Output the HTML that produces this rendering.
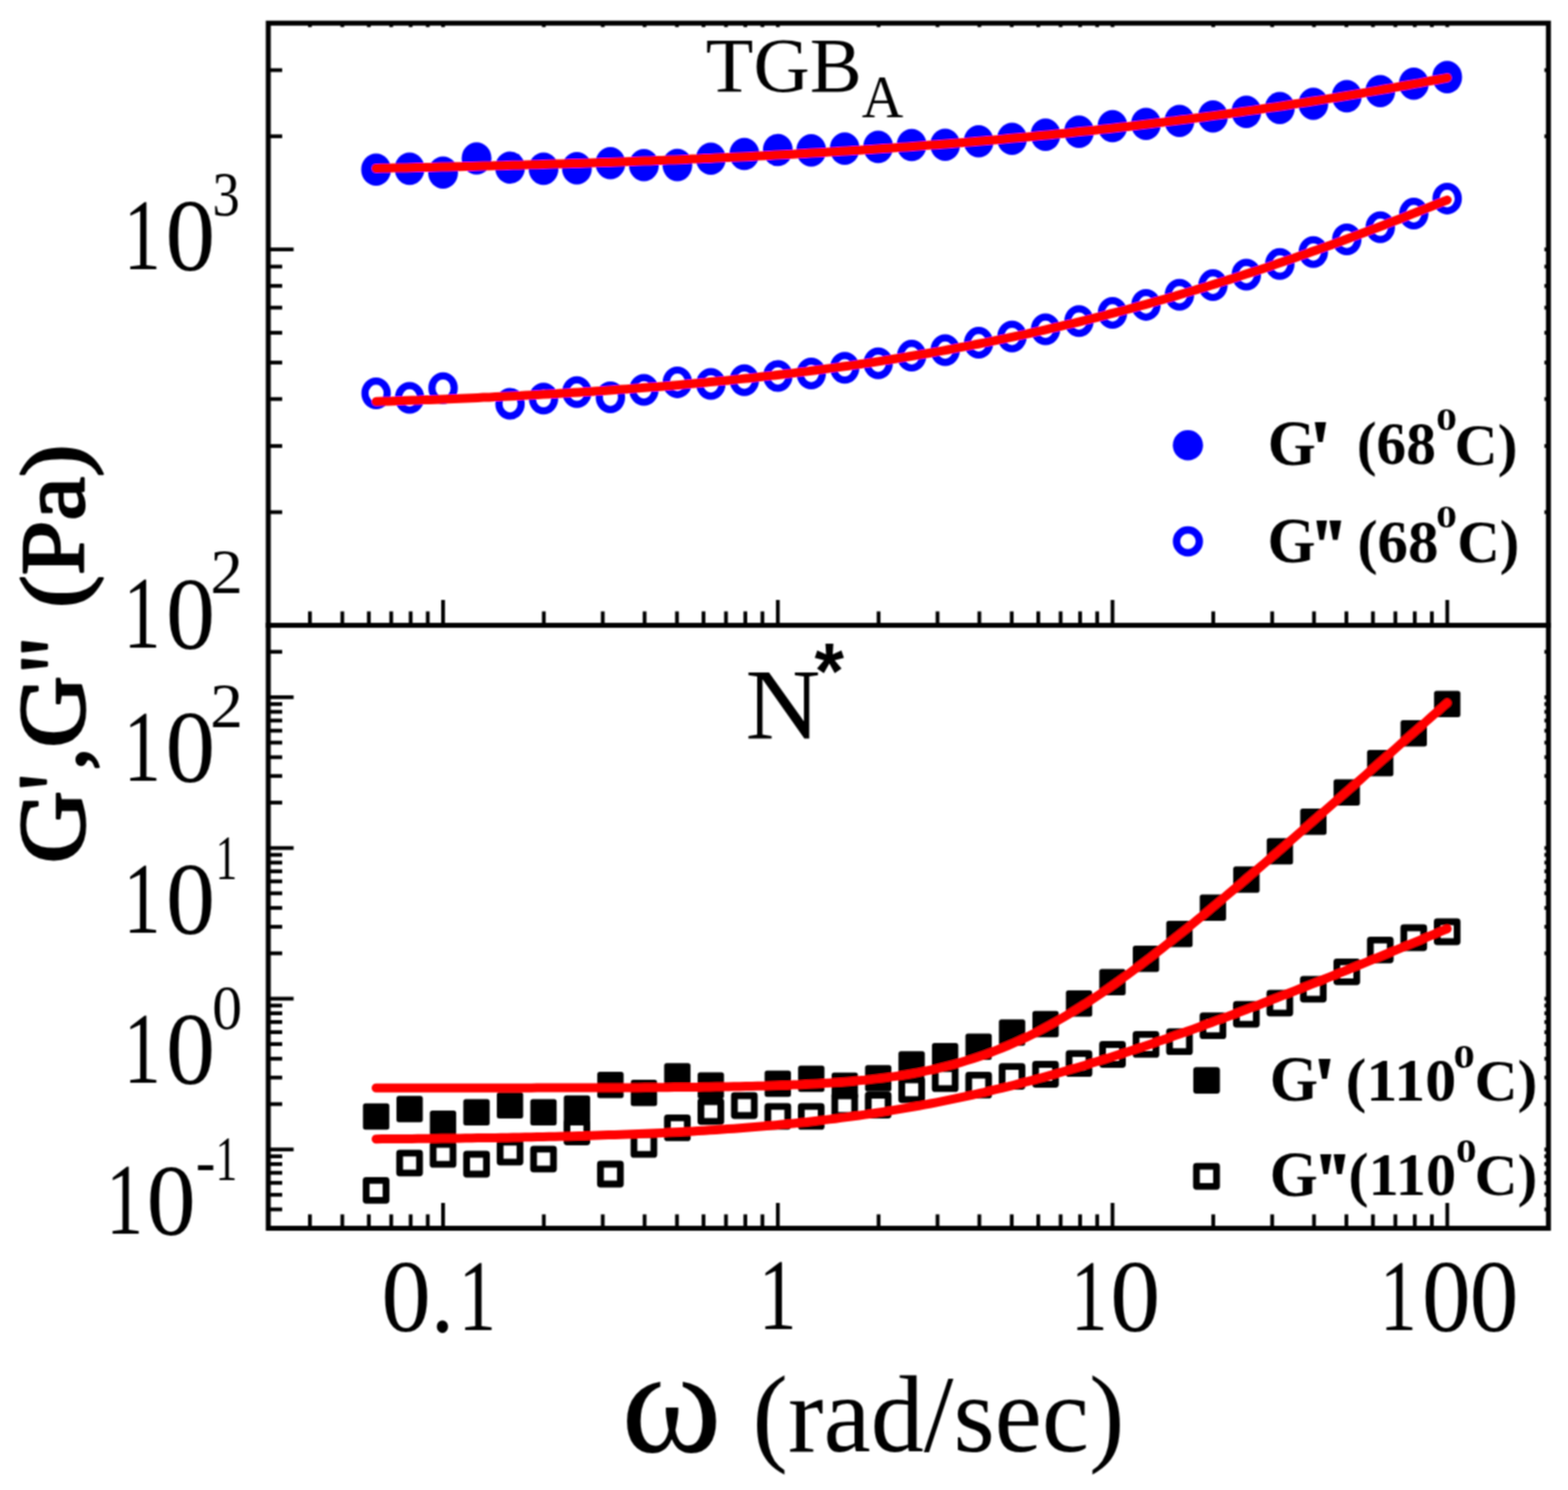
<!DOCTYPE html>
<html><head><meta charset="utf-8"><title>G', G'' vs omega</title>
<style>html,body{margin:0;padding:0;background:#fff;}svg{display:block;}.s{font-family:"Liberation Serif","Times New Roman",serif;}</style></head><body>
<svg width="1578" height="1500" viewBox="0 0 1578 1500">
<rect width="1578" height="1500" fill="#fff"/>
<defs><filter id="soft" x="0" y="0" width="1578" height="1500" filterUnits="userSpaceOnUse"><feConvolveMatrix order="3" kernelMatrix="1 2 1 2 4 2 1 2 1" divisor="16" edgeMode="none"/></filter></defs>
<g filter="url(#soft)">
<g fill="#0000ff">
<ellipse cx="378.5" cy="170.7" rx="15" ry="16.3"/>
<ellipse cx="412.2" cy="169.9" rx="15" ry="16.3"/>
<ellipse cx="445.9" cy="173.7" rx="15" ry="16.3"/>
<ellipse cx="479.6" cy="159.5" rx="15" ry="16.3"/>
<ellipse cx="513.3" cy="168.7" rx="15" ry="16.3"/>
<ellipse cx="547.0" cy="169.9" rx="15" ry="16.3"/>
<ellipse cx="580.6" cy="169.4" rx="15" ry="16.3"/>
<ellipse cx="614.3" cy="164.2" rx="15" ry="16.3"/>
<ellipse cx="648.0" cy="166.2" rx="15" ry="16.3"/>
<ellipse cx="681.7" cy="166.1" rx="15" ry="16.3"/>
<ellipse cx="715.4" cy="159.7" rx="15" ry="16.3"/>
<ellipse cx="749.1" cy="155.0" rx="15" ry="16.3"/>
<ellipse cx="782.8" cy="151.0" rx="15" ry="16.3"/>
<ellipse cx="816.4" cy="151.4" rx="15" ry="16.3"/>
<ellipse cx="850.1" cy="149.6" rx="15" ry="16.3"/>
<ellipse cx="883.8" cy="147.9" rx="15" ry="16.3"/>
<ellipse cx="917.5" cy="146.0" rx="15" ry="16.3"/>
<ellipse cx="951.2" cy="145.7" rx="15" ry="16.3"/>
<ellipse cx="984.9" cy="142.2" rx="15" ry="16.3"/>
<ellipse cx="1018.5" cy="139.7" rx="15" ry="16.3"/>
<ellipse cx="1052.2" cy="135.6" rx="15" ry="16.3"/>
<ellipse cx="1085.9" cy="132.6" rx="15" ry="16.3"/>
<ellipse cx="1119.6" cy="127.0" rx="15" ry="16.3"/>
<ellipse cx="1153.3" cy="124.8" rx="15" ry="16.3"/>
<ellipse cx="1187.0" cy="121.7" rx="15" ry="16.3"/>
<ellipse cx="1220.7" cy="117.2" rx="15" ry="16.3"/>
<ellipse cx="1254.3" cy="112.6" rx="15" ry="16.3"/>
<ellipse cx="1288.0" cy="108.8" rx="15" ry="16.3"/>
<ellipse cx="1321.7" cy="104.5" rx="15" ry="16.3"/>
<ellipse cx="1355.4" cy="96.9" rx="15" ry="16.3"/>
<ellipse cx="1389.1" cy="91.8" rx="15" ry="16.3"/>
<ellipse cx="1422.8" cy="84.2" rx="15" ry="16.3"/>
<ellipse cx="1456.4" cy="77.6" rx="15" ry="16.3"/>
</g>
<g fill="none" stroke="#0000ff" stroke-width="7.2">
<ellipse cx="378.5" cy="396.0" rx="11.2" ry="12.4"/>
<ellipse cx="412.2" cy="400.5" rx="11.2" ry="12.4"/>
<ellipse cx="445.9" cy="390.7" rx="11.2" ry="12.4"/>
<ellipse cx="513.3" cy="406.5" rx="11.2" ry="12.4"/>
<ellipse cx="547.0" cy="401.3" rx="11.2" ry="12.4"/>
<ellipse cx="580.6" cy="394.8" rx="11.2" ry="12.4"/>
<ellipse cx="614.3" cy="400.0" rx="11.2" ry="12.4"/>
<ellipse cx="648.0" cy="392.5" rx="11.2" ry="12.4"/>
<ellipse cx="681.7" cy="384.9" rx="11.2" ry="12.4"/>
<ellipse cx="715.4" cy="386.5" rx="11.2" ry="12.4"/>
<ellipse cx="749.1" cy="382.7" rx="11.2" ry="12.4"/>
<ellipse cx="782.8" cy="378.5" rx="11.2" ry="12.4"/>
<ellipse cx="816.4" cy="376.0" rx="11.2" ry="12.4"/>
<ellipse cx="850.1" cy="370.3" rx="11.2" ry="12.4"/>
<ellipse cx="883.8" cy="365.7" rx="11.2" ry="12.4"/>
<ellipse cx="917.5" cy="358.1" rx="11.2" ry="12.4"/>
<ellipse cx="951.2" cy="352.5" rx="11.2" ry="12.4"/>
<ellipse cx="984.9" cy="345.1" rx="11.2" ry="12.4"/>
<ellipse cx="1018.5" cy="338.7" rx="11.2" ry="12.4"/>
<ellipse cx="1052.2" cy="331.5" rx="11.2" ry="12.4"/>
<ellipse cx="1085.9" cy="323.2" rx="11.2" ry="12.4"/>
<ellipse cx="1119.6" cy="315.0" rx="11.2" ry="12.4"/>
<ellipse cx="1153.3" cy="306.9" rx="11.2" ry="12.4"/>
<ellipse cx="1187.0" cy="296.7" rx="11.2" ry="12.4"/>
<ellipse cx="1220.7" cy="287.1" rx="11.2" ry="12.4"/>
<ellipse cx="1254.3" cy="276.5" rx="11.2" ry="12.4"/>
<ellipse cx="1288.0" cy="265.8" rx="11.2" ry="12.4"/>
<ellipse cx="1321.7" cy="253.7" rx="11.2" ry="12.4"/>
<ellipse cx="1355.4" cy="241.0" rx="11.2" ry="12.4"/>
<ellipse cx="1389.1" cy="228.8" rx="11.2" ry="12.4"/>
<ellipse cx="1422.8" cy="215.1" rx="11.2" ry="12.4"/>
<ellipse cx="1456.4" cy="199.9" rx="11.2" ry="12.4"/>
</g>
<g fill="#000" stroke="#000" stroke-width="5" stroke-linejoin="round">
<rect x="367.8" y="1113.2" width="21.5" height="21.5"/>
<rect x="401.5" y="1105.8" width="21.5" height="21.5"/>
<rect x="435.1" y="1120.5" width="21.5" height="21.5"/>
<rect x="468.8" y="1109.0" width="21.5" height="21.5"/>
<rect x="502.5" y="1102.0" width="21.5" height="21.5"/>
<rect x="536.2" y="1109.0" width="21.5" height="21.5"/>
<rect x="569.9" y="1105.2" width="21.5" height="21.5"/>
<rect x="603.6" y="1081.5" width="21.5" height="21.5"/>
<rect x="637.3" y="1089.5" width="21.5" height="21.5"/>
<rect x="670.9" y="1072.8" width="21.5" height="21.5"/>
<rect x="704.6" y="1082.0" width="21.5" height="21.5"/>
<rect x="772.0" y="1080.2" width="21.5" height="21.5"/>
<rect x="805.7" y="1075.3" width="21.5" height="21.5"/>
<rect x="839.4" y="1082.2" width="21.5" height="21.5"/>
<rect x="873.1" y="1074.8" width="21.5" height="21.5"/>
<rect x="906.7" y="1060.8" width="21.5" height="21.5"/>
<rect x="940.4" y="1052.5" width="21.5" height="21.5"/>
<rect x="974.1" y="1043.0" width="21.5" height="21.5"/>
<rect x="1007.8" y="1028.7" width="21.5" height="21.5"/>
<rect x="1041.5" y="1020.2" width="21.5" height="21.5"/>
<rect x="1075.2" y="999.4" width="21.5" height="21.5"/>
<rect x="1108.8" y="978.0" width="21.5" height="21.5"/>
<rect x="1142.5" y="954.5" width="21.5" height="21.5"/>
<rect x="1176.2" y="929.5" width="21.5" height="21.5"/>
<rect x="1209.9" y="903.0" width="21.5" height="21.5"/>
<rect x="1243.6" y="874.8" width="21.5" height="21.5"/>
<rect x="1277.3" y="846.2" width="21.5" height="21.5"/>
<rect x="1311.0" y="816.5" width="21.5" height="21.5"/>
<rect x="1344.6" y="787.0" width="21.5" height="21.5"/>
<rect x="1378.3" y="757.5" width="21.5" height="21.5"/>
<rect x="1412.0" y="727.5" width="21.5" height="21.5"/>
<rect x="1445.7" y="697.9" width="21.5" height="21.5"/>
</g>
<g fill="none" stroke="#000" stroke-width="6.8" stroke-linejoin="round">
<rect x="368.5" y="1188.3" width="20" height="20"/>
<rect x="402.2" y="1160.8" width="20" height="20"/>
<rect x="435.9" y="1152.2" width="20" height="20"/>
<rect x="469.6" y="1162.0" width="20" height="20"/>
<rect x="503.3" y="1149.8" width="20" height="20"/>
<rect x="537.0" y="1156.8" width="20" height="20"/>
<rect x="570.6" y="1129.5" width="20" height="20"/>
<rect x="604.3" y="1172.0" width="20" height="20"/>
<rect x="638.0" y="1142.2" width="20" height="20"/>
<rect x="671.7" y="1125.4" width="20" height="20"/>
<rect x="705.4" y="1109.0" width="20" height="20"/>
<rect x="739.1" y="1103.0" width="20" height="20"/>
<rect x="772.8" y="1113.8" width="20" height="20"/>
<rect x="806.4" y="1113.9" width="20" height="20"/>
<rect x="840.1" y="1103.0" width="20" height="20"/>
<rect x="873.8" y="1102.5" width="20" height="20"/>
<rect x="907.5" y="1087.0" width="20" height="20"/>
<rect x="941.2" y="1075.9" width="20" height="20"/>
<rect x="974.9" y="1082.4" width="20" height="20"/>
<rect x="1008.5" y="1073.6" width="20" height="20"/>
<rect x="1042.2" y="1071.5" width="20" height="20"/>
<rect x="1075.9" y="1060.7" width="20" height="20"/>
<rect x="1109.6" y="1051.5" width="20" height="20"/>
<rect x="1143.3" y="1041.4" width="20" height="20"/>
<rect x="1177.0" y="1038.7" width="20" height="20"/>
<rect x="1210.7" y="1022.7" width="20" height="20"/>
<rect x="1244.3" y="1011.1" width="20" height="20"/>
<rect x="1278.0" y="999.8" width="20" height="20"/>
<rect x="1311.7" y="985.8" width="20" height="20"/>
<rect x="1345.4" y="968.3" width="20" height="20"/>
<rect x="1379.1" y="946.3" width="20" height="20"/>
<rect x="1412.8" y="934.0" width="20" height="20"/>
<rect x="1446.4" y="928.0" width="20" height="20"/>
</g>
<g fill="none" stroke="#ff0000" stroke-width="9" stroke-linecap="round" stroke-linejoin="round">
<path d="M378.5,169.4 L384.5,169.3 L390.5,169.2 L396.5,169.1 L402.5,169.0 L408.5,168.9 L414.5,168.7 L420.5,168.6 L426.5,168.5 L432.5,168.4 L438.5,168.2 L444.5,168.1 L450.5,168.0 L456.5,167.8 L462.5,167.7 L468.5,167.5 L474.5,167.4 L480.5,167.3 L486.5,167.1 L492.5,167.0 L498.5,166.8 L504.5,166.7 L510.5,166.5 L516.5,166.3 L522.5,166.2 L528.5,166.0 L534.5,165.8 L540.5,165.7 L546.5,165.5 L552.5,165.3 L558.5,165.1 L564.5,165.0 L570.5,164.8 L576.5,164.6 L582.5,164.4 L588.5,164.2 L594.5,164.0 L600.5,163.8 L606.5,163.6 L612.5,163.4 L618.5,163.2 L624.5,163.0 L630.5,162.8 L636.5,162.5 L642.5,162.3 L648.5,162.1 L654.5,161.9 L660.5,161.6 L666.5,161.4 L672.5,161.1 L678.5,160.9 L684.5,160.7 L690.5,160.4 L696.5,160.1 L702.5,159.9 L708.5,159.6 L714.5,159.4 L720.5,159.1 L726.5,158.8 L732.5,158.5 L738.5,158.2 L744.5,158.0 L750.5,157.7 L756.5,157.4 L762.5,157.1 L768.5,156.8 L774.5,156.4 L780.5,156.1 L786.5,155.8 L792.5,155.5 L798.5,155.2 L804.5,154.8 L810.5,154.5 L816.5,154.1 L822.5,153.8 L828.5,153.4 L834.5,153.1 L840.5,152.7 L846.5,152.3 L852.5,152.0 L858.5,151.6 L864.5,151.2 L870.5,150.8 L876.5,150.4 L882.5,150.0 L888.5,149.6 L894.5,149.2 L900.5,148.8 L906.5,148.3 L912.5,147.9 L918.5,147.5 L924.5,147.0 L930.5,146.6 L936.5,146.1 L942.5,145.7 L948.5,145.2 L954.5,144.7 L960.5,144.3 L966.5,143.8 L972.5,143.3 L978.5,142.8 L984.5,142.3 L990.5,141.8 L996.5,141.2 L1002.5,140.7 L1008.5,140.2 L1014.5,139.6 L1020.5,139.1 L1026.5,138.5 L1032.5,138.0 L1038.5,137.4 L1044.5,136.8 L1050.5,136.3 L1056.5,135.7 L1062.5,135.1 L1068.5,134.5 L1074.5,133.9 L1080.5,133.2 L1086.5,132.6 L1092.5,132.0 L1098.5,131.4 L1104.5,130.7 L1110.5,130.0 L1116.5,129.4 L1122.5,128.7 L1128.5,128.0 L1134.5,127.4 L1140.5,126.7 L1146.5,126.0 L1152.5,125.2 L1158.5,124.5 L1164.5,123.8 L1170.5,123.1 L1176.5,122.3 L1182.5,121.6 L1188.5,120.8 L1194.5,120.1 L1200.5,119.3 L1206.5,118.5 L1212.5,117.7 L1218.5,116.9 L1224.5,116.1 L1230.5,115.3 L1236.5,114.5 L1242.5,113.6 L1248.5,112.8 L1254.5,111.9 L1260.5,111.1 L1266.5,110.2 L1272.5,109.3 L1278.5,108.4 L1284.5,107.6 L1290.5,106.7 L1296.5,105.7 L1302.5,104.8 L1308.5,103.9 L1314.5,103.0 L1320.5,102.0 L1326.5,101.1 L1332.5,100.1 L1338.5,99.1 L1344.5,98.2 L1350.5,97.2 L1356.5,96.2 L1362.5,95.2 L1368.5,94.2 L1374.5,93.1 L1380.5,92.1 L1386.5,91.1 L1392.5,90.0 L1398.5,89.0 L1404.5,87.9 L1410.5,86.8 L1416.5,85.7 L1422.5,84.6 L1428.5,83.6 L1434.5,82.4 L1440.5,81.3 L1446.5,80.2 L1452.5,79.1 L1456.4,78.3"/>
<path d="M378.5,404.3 L384.5,404.1 L390.5,403.9 L396.5,403.7 L402.5,403.5 L408.5,403.3 L414.5,403.1 L420.5,402.9 L426.5,402.6 L432.5,402.4 L438.5,402.2 L444.5,401.9 L450.5,401.7 L456.5,401.5 L462.5,401.2 L468.5,400.9 L474.5,400.7 L480.5,400.4 L486.5,400.1 L492.5,399.9 L498.5,399.6 L504.5,399.3 L510.5,399.0 L516.5,398.7 L522.5,398.4 L528.5,398.1 L534.5,397.8 L540.5,397.4 L546.5,397.1 L552.5,396.8 L558.5,396.4 L564.5,396.1 L570.5,395.7 L576.5,395.3 L582.5,394.9 L588.5,394.6 L594.5,394.2 L600.5,393.8 L606.5,393.4 L612.5,393.0 L618.5,392.5 L624.5,392.1 L630.5,391.7 L636.5,391.2 L642.5,390.8 L648.5,390.3 L654.5,389.8 L660.5,389.4 L666.5,388.9 L672.5,388.4 L678.5,387.9 L684.5,387.4 L690.5,386.8 L696.5,386.3 L702.5,385.7 L708.5,385.2 L714.5,384.6 L720.5,384.0 L726.5,383.5 L732.5,382.9 L738.5,382.3 L744.5,381.6 L750.5,381.0 L756.5,380.4 L762.5,379.7 L768.5,379.1 L774.5,378.4 L780.5,377.7 L786.5,377.0 L792.5,376.3 L798.5,375.6 L804.5,374.8 L810.5,374.1 L816.5,373.3 L822.5,372.5 L828.5,371.7 L834.5,370.9 L840.5,370.1 L846.5,369.3 L852.5,368.5 L858.5,367.6 L864.5,366.7 L870.5,365.9 L876.5,365.0 L882.5,364.1 L888.5,363.1 L894.5,362.2 L900.5,361.2 L906.5,360.3 L912.5,359.3 L918.5,358.3 L924.5,357.3 L930.5,356.2 L936.5,355.2 L942.5,354.1 L948.5,353.1 L954.5,352.0 L960.5,350.9 L966.5,349.7 L972.5,348.6 L978.5,347.4 L984.5,346.3 L990.5,345.1 L996.5,343.9 L1002.5,342.7 L1008.5,341.4 L1014.5,340.2 L1020.5,338.9 L1026.5,337.6 L1032.5,336.3 L1038.5,335.0 L1044.5,333.6 L1050.5,332.3 L1056.5,330.9 L1062.5,329.5 L1068.5,328.1 L1074.5,326.7 L1080.5,325.3 L1086.5,323.8 L1092.5,322.3 L1098.5,320.8 L1104.5,319.3 L1110.5,317.8 L1116.5,316.2 L1122.5,314.7 L1128.5,313.1 L1134.5,311.5 L1140.5,309.9 L1146.5,308.2 L1152.5,306.6 L1158.5,304.9 L1164.5,303.2 L1170.5,301.5 L1176.5,299.8 L1182.5,298.1 L1188.5,296.3 L1194.5,294.5 L1200.5,292.7 L1206.5,290.9 L1212.5,289.1 L1218.5,287.2 L1224.5,285.4 L1230.5,283.5 L1236.5,281.6 L1242.5,279.7 L1248.5,277.8 L1254.5,275.8 L1260.5,273.9 L1266.5,271.9 L1272.5,269.9 L1278.5,267.9 L1284.5,265.8 L1290.5,263.8 L1296.5,261.7 L1302.5,259.7 L1308.5,257.6 L1314.5,255.5 L1320.5,253.3 L1326.5,251.2 L1332.5,249.0 L1338.5,246.9 L1344.5,244.7 L1350.5,242.5 L1356.5,240.3 L1362.5,238.0 L1368.5,235.8 L1374.5,233.5 L1380.5,231.2 L1386.5,229.0 L1392.5,226.7 L1398.5,224.3 L1404.5,222.0 L1410.5,219.7 L1416.5,217.3 L1422.5,214.9 L1428.5,212.5 L1434.5,210.1 L1440.5,207.7 L1446.5,205.3 L1452.5,202.9 L1456.4,201.3"/>
<path d="M378.5,1095.2 L384.5,1095.2 L390.5,1095.2 L396.5,1095.2 L402.5,1095.2 L408.5,1095.2 L414.5,1095.2 L420.5,1095.2 L426.5,1095.2 L432.5,1095.2 L438.5,1095.2 L444.5,1095.2 L450.5,1095.2 L456.5,1095.2 L462.5,1095.2 L468.5,1095.2 L474.5,1095.2 L480.5,1095.2 L486.5,1095.2 L492.5,1095.2 L498.5,1095.2 L504.5,1095.2 L510.5,1095.2 L516.5,1095.2 L522.5,1095.2 L528.5,1095.2 L534.5,1095.2 L540.5,1095.1 L546.5,1095.1 L552.5,1095.1 L558.5,1095.1 L564.5,1095.1 L570.5,1095.1 L576.5,1095.1 L582.5,1095.1 L588.5,1095.1 L594.5,1095.0 L600.5,1095.0 L606.5,1095.0 L612.5,1095.0 L618.5,1095.0 L624.5,1094.9 L630.5,1094.9 L636.5,1094.9 L642.5,1094.9 L648.5,1094.8 L654.5,1094.8 L660.5,1094.8 L666.5,1094.7 L672.5,1094.7 L678.5,1094.6 L684.5,1094.6 L690.5,1094.5 L696.5,1094.5 L702.5,1094.4 L708.5,1094.3 L714.5,1094.2 L720.5,1094.1 L726.5,1094.1 L732.5,1094.0 L738.5,1093.8 L744.5,1093.7 L750.5,1093.6 L756.5,1093.5 L762.5,1093.3 L768.5,1093.2 L774.5,1093.0 L780.5,1092.8 L786.5,1092.6 L792.5,1092.4 L798.5,1092.1 L804.5,1091.9 L810.5,1091.6 L816.5,1091.3 L822.5,1091.0 L828.5,1090.6 L834.5,1090.2 L840.5,1089.8 L846.5,1089.4 L852.5,1088.9 L858.5,1088.4 L864.5,1087.8 L870.5,1087.3 L876.5,1086.6 L882.5,1085.9 L888.5,1085.2 L894.5,1084.4 L900.5,1083.6 L906.5,1082.7 L912.5,1081.7 L918.5,1080.7 L924.5,1079.6 L930.5,1078.4 L936.5,1077.1 L942.5,1075.8 L948.5,1074.4 L954.5,1072.9 L960.5,1071.3 L966.5,1069.6 L972.5,1067.8 L978.5,1066.0 L984.5,1064.0 L990.5,1061.9 L996.5,1059.7 L1002.5,1057.4 L1008.5,1055.0 L1014.5,1052.5 L1020.5,1049.9 L1026.5,1047.2 L1032.5,1044.4 L1038.5,1041.4 L1044.5,1038.4 L1050.5,1035.2 L1056.5,1032.0 L1062.5,1028.6 L1068.5,1025.2 L1074.5,1021.6 L1080.5,1017.9 L1086.5,1014.2 L1092.5,1010.4 L1098.5,1006.4 L1104.5,1002.4 L1110.5,998.4 L1116.5,994.2 L1122.5,990.0 L1128.5,985.7 L1134.5,981.3 L1140.5,976.9 L1146.5,972.4 L1152.5,967.8 L1158.5,963.2 L1164.5,958.6 L1170.5,953.9 L1176.5,949.1 L1182.5,944.3 L1188.5,939.5 L1194.5,934.7 L1200.5,929.8 L1206.5,924.8 L1212.5,919.9 L1218.5,914.9 L1224.5,909.9 L1230.5,904.9 L1236.5,899.8 L1242.5,894.7 L1248.5,889.7 L1254.5,884.5 L1260.5,879.4 L1266.5,874.3 L1272.5,869.1 L1278.5,863.9 L1284.5,858.8 L1290.5,853.6 L1296.5,848.4 L1302.5,843.1 L1308.5,837.9 L1314.5,832.7 L1320.5,827.4 L1326.5,822.2 L1332.5,816.9 L1338.5,811.7 L1344.5,806.4 L1350.5,801.1 L1356.5,795.9 L1362.5,790.6 L1368.5,785.3 L1374.5,780.0 L1380.5,774.7 L1386.5,769.4 L1392.5,764.1 L1398.5,758.8 L1404.5,753.5 L1410.5,748.2 L1416.5,742.9 L1422.5,737.6 L1428.5,732.3 L1434.5,727.0 L1440.5,721.7 L1446.5,716.4 L1452.5,711.0 L1456.4,707.6"/>
<path d="M378.5,1146.7 L384.5,1146.6 L390.5,1146.6 L396.5,1146.5 L402.5,1146.5 L408.5,1146.4 L414.5,1146.4 L420.5,1146.3 L426.5,1146.3 L432.5,1146.2 L438.5,1146.2 L444.5,1146.1 L450.5,1146.0 L456.5,1145.9 L462.5,1145.9 L468.5,1145.8 L474.5,1145.7 L480.5,1145.6 L486.5,1145.5 L492.5,1145.5 L498.5,1145.4 L504.5,1145.3 L510.5,1145.2 L516.5,1145.0 L522.5,1144.9 L528.5,1144.8 L534.5,1144.7 L540.5,1144.6 L546.5,1144.4 L552.5,1144.3 L558.5,1144.2 L564.5,1144.0 L570.5,1143.9 L576.5,1143.7 L582.5,1143.5 L588.5,1143.4 L594.5,1143.2 L600.5,1143.0 L606.5,1142.8 L612.5,1142.6 L618.5,1142.4 L624.5,1142.2 L630.5,1142.0 L636.5,1141.7 L642.5,1141.5 L648.5,1141.3 L654.5,1141.0 L660.5,1140.7 L666.5,1140.4 L672.5,1140.1 L678.5,1139.8 L684.5,1139.5 L690.5,1139.2 L696.5,1138.9 L702.5,1138.5 L708.5,1138.2 L714.5,1137.8 L720.5,1137.4 L726.5,1137.0 L732.5,1136.6 L738.5,1136.2 L744.5,1135.7 L750.5,1135.2 L756.5,1134.8 L762.5,1134.3 L768.5,1133.8 L774.5,1133.2 L780.5,1132.7 L786.5,1132.1 L792.5,1131.5 L798.5,1130.9 L804.5,1130.3 L810.5,1129.7 L816.5,1129.0 L822.5,1128.3 L828.5,1127.6 L834.5,1126.9 L840.5,1126.2 L846.5,1125.4 L852.5,1124.6 L858.5,1123.8 L864.5,1123.0 L870.5,1122.1 L876.5,1121.2 L882.5,1120.3 L888.5,1119.4 L894.5,1118.4 L900.5,1117.4 L906.5,1116.4 L912.5,1115.4 L918.5,1114.3 L924.5,1113.3 L930.5,1112.1 L936.5,1111.0 L942.5,1109.8 L948.5,1108.6 L954.5,1107.4 L960.5,1106.2 L966.5,1104.9 L972.5,1103.6 L978.5,1102.3 L984.5,1100.9 L990.5,1099.6 L996.5,1098.1 L1002.5,1096.7 L1008.5,1095.3 L1014.5,1093.8 L1020.5,1092.3 L1026.5,1090.7 L1032.5,1089.2 L1038.5,1087.6 L1044.5,1086.0 L1050.5,1084.3 L1056.5,1082.6 L1062.5,1081.0 L1068.5,1079.2 L1074.5,1077.5 L1080.5,1075.7 L1086.5,1074.0 L1092.5,1072.2 L1098.5,1070.3 L1104.5,1068.5 L1110.5,1066.6 L1116.5,1064.7 L1122.5,1062.8 L1128.5,1060.9 L1134.5,1058.9 L1140.5,1056.9 L1146.5,1054.9 L1152.5,1052.9 L1158.5,1050.9 L1164.5,1048.8 L1170.5,1046.8 L1176.5,1044.7 L1182.5,1042.6 L1188.5,1040.5 L1194.5,1038.3 L1200.5,1036.2 L1206.5,1034.0 L1212.5,1031.8 L1218.5,1029.7 L1224.5,1027.4 L1230.5,1025.2 L1236.5,1023.0 L1242.5,1020.7 L1248.5,1018.5 L1254.5,1016.2 L1260.5,1013.9 L1266.5,1011.7 L1272.5,1009.3 L1278.5,1007.0 L1284.5,1004.7 L1290.5,1002.4 L1296.5,1000.0 L1302.5,997.7 L1308.5,995.3 L1314.5,993.0 L1320.5,990.6 L1326.5,988.2 L1332.5,985.8 L1338.5,983.4 L1344.5,981.0 L1350.5,978.6 L1356.5,976.2 L1362.5,973.7 L1368.5,971.3 L1374.5,968.9 L1380.5,966.4 L1386.5,964.0 L1392.5,961.5 L1398.5,959.0 L1404.5,956.6 L1410.5,954.1 L1416.5,951.6 L1422.5,949.1 L1428.5,946.7 L1434.5,944.2 L1440.5,941.7 L1446.5,939.2 L1452.5,936.7 L1456.4,935.0"/>
</g>
<g stroke="#000" stroke-width="3.8" stroke-linecap="butt">
<line x1="311.9" y1="629.5" x2="311.9" y2="615.5"/>
<line x1="344.5" y1="629.5" x2="344.5" y2="615.5"/>
<line x1="371.2" y1="629.5" x2="371.2" y2="615.5"/>
<line x1="393.7" y1="629.5" x2="393.7" y2="615.5"/>
<line x1="413.3" y1="629.5" x2="413.3" y2="615.5"/>
<line x1="430.5" y1="629.5" x2="430.5" y2="615.5"/>
<line x1="445.9" y1="629.5" x2="445.9" y2="604.0"/>
<line x1="547.3" y1="629.5" x2="547.3" y2="615.5"/>
<line x1="606.6" y1="629.5" x2="606.6" y2="615.5"/>
<line x1="648.7" y1="629.5" x2="648.7" y2="615.5"/>
<line x1="681.3" y1="629.5" x2="681.3" y2="615.5"/>
<line x1="708.0" y1="629.5" x2="708.0" y2="615.5"/>
<line x1="730.6" y1="629.5" x2="730.6" y2="615.5"/>
<line x1="750.1" y1="629.5" x2="750.1" y2="615.5"/>
<line x1="767.3" y1="629.5" x2="767.3" y2="615.5"/>
<line x1="782.8" y1="629.5" x2="782.8" y2="604.0"/>
<line x1="884.2" y1="629.5" x2="884.2" y2="615.5"/>
<line x1="943.5" y1="629.5" x2="943.5" y2="615.5"/>
<line x1="985.6" y1="629.5" x2="985.6" y2="615.5"/>
<line x1="1018.2" y1="629.5" x2="1018.2" y2="615.5"/>
<line x1="1044.9" y1="629.5" x2="1044.9" y2="615.5"/>
<line x1="1067.4" y1="629.5" x2="1067.4" y2="615.5"/>
<line x1="1087.0" y1="629.5" x2="1087.0" y2="615.5"/>
<line x1="1104.2" y1="629.5" x2="1104.2" y2="615.5"/>
<line x1="1119.6" y1="629.5" x2="1119.6" y2="604.0"/>
<line x1="1221.0" y1="629.5" x2="1221.0" y2="615.5"/>
<line x1="1280.3" y1="629.5" x2="1280.3" y2="615.5"/>
<line x1="1322.4" y1="629.5" x2="1322.4" y2="615.5"/>
<line x1="1355.0" y1="629.5" x2="1355.0" y2="615.5"/>
<line x1="1381.7" y1="629.5" x2="1381.7" y2="615.5"/>
<line x1="1404.3" y1="629.5" x2="1404.3" y2="615.5"/>
<line x1="1423.8" y1="629.5" x2="1423.8" y2="615.5"/>
<line x1="1441.0" y1="629.5" x2="1441.0" y2="615.5"/>
<line x1="1456.5" y1="629.5" x2="1456.5" y2="604.0"/>
<line x1="311.9" y1="1236.5" x2="311.9" y2="1222.5"/>
<line x1="344.5" y1="1236.5" x2="344.5" y2="1222.5"/>
<line x1="371.2" y1="1236.5" x2="371.2" y2="1222.5"/>
<line x1="393.7" y1="1236.5" x2="393.7" y2="1222.5"/>
<line x1="413.3" y1="1236.5" x2="413.3" y2="1222.5"/>
<line x1="430.5" y1="1236.5" x2="430.5" y2="1222.5"/>
<line x1="445.9" y1="1236.5" x2="445.9" y2="1211.0"/>
<line x1="547.3" y1="1236.5" x2="547.3" y2="1222.5"/>
<line x1="606.6" y1="1236.5" x2="606.6" y2="1222.5"/>
<line x1="648.7" y1="1236.5" x2="648.7" y2="1222.5"/>
<line x1="681.3" y1="1236.5" x2="681.3" y2="1222.5"/>
<line x1="708.0" y1="1236.5" x2="708.0" y2="1222.5"/>
<line x1="730.6" y1="1236.5" x2="730.6" y2="1222.5"/>
<line x1="750.1" y1="1236.5" x2="750.1" y2="1222.5"/>
<line x1="767.3" y1="1236.5" x2="767.3" y2="1222.5"/>
<line x1="782.8" y1="1236.5" x2="782.8" y2="1211.0"/>
<line x1="884.2" y1="1236.5" x2="884.2" y2="1222.5"/>
<line x1="943.5" y1="1236.5" x2="943.5" y2="1222.5"/>
<line x1="985.6" y1="1236.5" x2="985.6" y2="1222.5"/>
<line x1="1018.2" y1="1236.5" x2="1018.2" y2="1222.5"/>
<line x1="1044.9" y1="1236.5" x2="1044.9" y2="1222.5"/>
<line x1="1067.4" y1="1236.5" x2="1067.4" y2="1222.5"/>
<line x1="1087.0" y1="1236.5" x2="1087.0" y2="1222.5"/>
<line x1="1104.2" y1="1236.5" x2="1104.2" y2="1222.5"/>
<line x1="1119.6" y1="1236.5" x2="1119.6" y2="1211.0"/>
<line x1="1221.0" y1="1236.5" x2="1221.0" y2="1222.5"/>
<line x1="1280.3" y1="1236.5" x2="1280.3" y2="1222.5"/>
<line x1="1322.4" y1="1236.5" x2="1322.4" y2="1222.5"/>
<line x1="1355.0" y1="1236.5" x2="1355.0" y2="1222.5"/>
<line x1="1381.7" y1="1236.5" x2="1381.7" y2="1222.5"/>
<line x1="1404.3" y1="1236.5" x2="1404.3" y2="1222.5"/>
<line x1="1423.8" y1="1236.5" x2="1423.8" y2="1222.5"/>
<line x1="1441.0" y1="1236.5" x2="1441.0" y2="1222.5"/>
<line x1="1456.5" y1="1236.5" x2="1456.5" y2="1211.0"/>
<line x1="270.0" y1="515.6" x2="284.0" y2="515.6"/>
<line x1="270.0" y1="449.0" x2="284.0" y2="449.0"/>
<line x1="270.0" y1="401.7" x2="284.0" y2="401.7"/>
<line x1="270.0" y1="365.0" x2="284.0" y2="365.0"/>
<line x1="270.0" y1="335.0" x2="284.0" y2="335.0"/>
<line x1="270.0" y1="309.7" x2="284.0" y2="309.7"/>
<line x1="270.0" y1="287.8" x2="284.0" y2="287.8"/>
<line x1="270.0" y1="268.4" x2="284.0" y2="268.4"/>
<line x1="270.0" y1="251.1" x2="295.5" y2="251.1"/>
<line x1="270.0" y1="137.2" x2="284.0" y2="137.2"/>
<line x1="270.0" y1="70.6" x2="284.0" y2="70.6"/>
<line x1="270.0" y1="1217.5" x2="284.0" y2="1217.5"/>
<line x1="270.0" y1="1202.8" x2="284.0" y2="1202.8"/>
<line x1="270.0" y1="1190.8" x2="284.0" y2="1190.8"/>
<line x1="270.0" y1="1180.7" x2="284.0" y2="1180.7"/>
<line x1="270.0" y1="1171.9" x2="284.0" y2="1171.9"/>
<line x1="270.0" y1="1164.1" x2="284.0" y2="1164.1"/>
<line x1="270.0" y1="1157.2" x2="295.5" y2="1157.2"/>
<line x1="270.0" y1="1111.5" x2="284.0" y2="1111.5"/>
<line x1="270.0" y1="1084.8" x2="284.0" y2="1084.8"/>
<line x1="270.0" y1="1065.8" x2="284.0" y2="1065.8"/>
<line x1="270.0" y1="1051.1" x2="284.0" y2="1051.1"/>
<line x1="270.0" y1="1039.1" x2="284.0" y2="1039.1"/>
<line x1="270.0" y1="1028.9" x2="284.0" y2="1028.9"/>
<line x1="270.0" y1="1020.1" x2="284.0" y2="1020.1"/>
<line x1="270.0" y1="1012.3" x2="284.0" y2="1012.3"/>
<line x1="270.0" y1="1005.4" x2="295.5" y2="1005.4"/>
<line x1="270.0" y1="959.7" x2="284.0" y2="959.7"/>
<line x1="270.0" y1="933.0" x2="284.0" y2="933.0"/>
<line x1="270.0" y1="914.0" x2="284.0" y2="914.0"/>
<line x1="270.0" y1="899.3" x2="284.0" y2="899.3"/>
<line x1="270.0" y1="887.3" x2="284.0" y2="887.3"/>
<line x1="270.0" y1="877.2" x2="284.0" y2="877.2"/>
<line x1="270.0" y1="868.4" x2="284.0" y2="868.4"/>
<line x1="270.0" y1="860.6" x2="284.0" y2="860.6"/>
<line x1="270.0" y1="853.7" x2="295.5" y2="853.7"/>
<line x1="270.0" y1="808.0" x2="284.0" y2="808.0"/>
<line x1="270.0" y1="781.2" x2="284.0" y2="781.2"/>
<line x1="270.0" y1="762.3" x2="284.0" y2="762.3"/>
<line x1="270.0" y1="747.6" x2="284.0" y2="747.6"/>
<line x1="270.0" y1="735.6" x2="284.0" y2="735.6"/>
<line x1="270.0" y1="725.4" x2="284.0" y2="725.4"/>
<line x1="270.0" y1="716.6" x2="284.0" y2="716.6"/>
<line x1="270.0" y1="708.8" x2="284.0" y2="708.8"/>
<line x1="270.0" y1="701.9" x2="295.5" y2="701.9"/>
<line x1="270.0" y1="656.2" x2="284.0" y2="656.2"/>
<line x1="311.9" y1="23.3" x2="311.9" y2="27.3"/>
<line x1="344.5" y1="23.3" x2="344.5" y2="27.3"/>
<line x1="371.2" y1="23.3" x2="371.2" y2="27.3"/>
<line x1="393.7" y1="23.3" x2="393.7" y2="27.3"/>
<line x1="413.3" y1="23.3" x2="413.3" y2="27.3"/>
<line x1="430.5" y1="23.3" x2="430.5" y2="27.3"/>
<line x1="445.9" y1="23.3" x2="445.9" y2="27.3"/>
<line x1="547.3" y1="23.3" x2="547.3" y2="27.3"/>
<line x1="606.6" y1="23.3" x2="606.6" y2="27.3"/>
<line x1="648.7" y1="23.3" x2="648.7" y2="27.3"/>
<line x1="681.3" y1="23.3" x2="681.3" y2="27.3"/>
<line x1="708.0" y1="23.3" x2="708.0" y2="27.3"/>
<line x1="730.6" y1="23.3" x2="730.6" y2="27.3"/>
<line x1="750.1" y1="23.3" x2="750.1" y2="27.3"/>
<line x1="767.3" y1="23.3" x2="767.3" y2="27.3"/>
<line x1="782.8" y1="23.3" x2="782.8" y2="27.3"/>
<line x1="884.2" y1="23.3" x2="884.2" y2="27.3"/>
<line x1="943.5" y1="23.3" x2="943.5" y2="27.3"/>
<line x1="985.6" y1="23.3" x2="985.6" y2="27.3"/>
<line x1="1018.2" y1="23.3" x2="1018.2" y2="27.3"/>
<line x1="1044.9" y1="23.3" x2="1044.9" y2="27.3"/>
<line x1="1067.4" y1="23.3" x2="1067.4" y2="27.3"/>
<line x1="1087.0" y1="23.3" x2="1087.0" y2="27.3"/>
<line x1="1104.2" y1="23.3" x2="1104.2" y2="27.3"/>
<line x1="1119.6" y1="23.3" x2="1119.6" y2="27.3"/>
<line x1="1221.0" y1="23.3" x2="1221.0" y2="27.3"/>
<line x1="1280.3" y1="23.3" x2="1280.3" y2="27.3"/>
<line x1="1322.4" y1="23.3" x2="1322.4" y2="27.3"/>
<line x1="1355.0" y1="23.3" x2="1355.0" y2="27.3"/>
<line x1="1381.7" y1="23.3" x2="1381.7" y2="27.3"/>
<line x1="1404.3" y1="23.3" x2="1404.3" y2="27.3"/>
<line x1="1423.8" y1="23.3" x2="1423.8" y2="27.3"/>
<line x1="1441.0" y1="23.3" x2="1441.0" y2="27.3"/>
<line x1="1456.5" y1="23.3" x2="1456.5" y2="27.3"/>
<line x1="1558.3" y1="515.6" x2="1554.3" y2="515.6"/>
<line x1="1558.3" y1="449.0" x2="1554.3" y2="449.0"/>
<line x1="1558.3" y1="401.7" x2="1554.3" y2="401.7"/>
<line x1="1558.3" y1="365.0" x2="1554.3" y2="365.0"/>
<line x1="1558.3" y1="335.0" x2="1554.3" y2="335.0"/>
<line x1="1558.3" y1="309.7" x2="1554.3" y2="309.7"/>
<line x1="1558.3" y1="287.8" x2="1554.3" y2="287.8"/>
<line x1="1558.3" y1="268.4" x2="1554.3" y2="268.4"/>
<line x1="1558.3" y1="251.1" x2="1554.3" y2="251.1"/>
<line x1="1558.3" y1="137.2" x2="1554.3" y2="137.2"/>
<line x1="1558.3" y1="70.6" x2="1554.3" y2="70.6"/>
<line x1="1558.3" y1="1217.5" x2="1554.3" y2="1217.5"/>
<line x1="1558.3" y1="1202.8" x2="1554.3" y2="1202.8"/>
<line x1="1558.3" y1="1190.8" x2="1554.3" y2="1190.8"/>
<line x1="1558.3" y1="1180.7" x2="1554.3" y2="1180.7"/>
<line x1="1558.3" y1="1171.9" x2="1554.3" y2="1171.9"/>
<line x1="1558.3" y1="1164.1" x2="1554.3" y2="1164.1"/>
<line x1="1558.3" y1="1157.2" x2="1554.3" y2="1157.2"/>
<line x1="1558.3" y1="1111.5" x2="1554.3" y2="1111.5"/>
<line x1="1558.3" y1="1084.8" x2="1554.3" y2="1084.8"/>
<line x1="1558.3" y1="1065.8" x2="1554.3" y2="1065.8"/>
<line x1="1558.3" y1="1051.1" x2="1554.3" y2="1051.1"/>
<line x1="1558.3" y1="1039.1" x2="1554.3" y2="1039.1"/>
<line x1="1558.3" y1="1028.9" x2="1554.3" y2="1028.9"/>
<line x1="1558.3" y1="1020.1" x2="1554.3" y2="1020.1"/>
<line x1="1558.3" y1="1012.3" x2="1554.3" y2="1012.3"/>
<line x1="1558.3" y1="1005.4" x2="1554.3" y2="1005.4"/>
<line x1="1558.3" y1="959.7" x2="1554.3" y2="959.7"/>
<line x1="1558.3" y1="933.0" x2="1554.3" y2="933.0"/>
<line x1="1558.3" y1="914.0" x2="1554.3" y2="914.0"/>
<line x1="1558.3" y1="899.3" x2="1554.3" y2="899.3"/>
<line x1="1558.3" y1="887.3" x2="1554.3" y2="887.3"/>
<line x1="1558.3" y1="877.2" x2="1554.3" y2="877.2"/>
<line x1="1558.3" y1="868.4" x2="1554.3" y2="868.4"/>
<line x1="1558.3" y1="860.6" x2="1554.3" y2="860.6"/>
<line x1="1558.3" y1="853.7" x2="1554.3" y2="853.7"/>
<line x1="1558.3" y1="808.0" x2="1554.3" y2="808.0"/>
<line x1="1558.3" y1="781.2" x2="1554.3" y2="781.2"/>
<line x1="1558.3" y1="762.3" x2="1554.3" y2="762.3"/>
<line x1="1558.3" y1="747.6" x2="1554.3" y2="747.6"/>
<line x1="1558.3" y1="735.6" x2="1554.3" y2="735.6"/>
<line x1="1558.3" y1="725.4" x2="1554.3" y2="725.4"/>
<line x1="1558.3" y1="716.6" x2="1554.3" y2="716.6"/>
<line x1="1558.3" y1="708.8" x2="1554.3" y2="708.8"/>
<line x1="1558.3" y1="701.9" x2="1554.3" y2="701.9"/>
<line x1="1558.3" y1="656.2" x2="1554.3" y2="656.2"/>
</g>
<g fill="none" stroke="#000" stroke-width="5" stroke-linecap="square">
<rect x="270.0" y="23.3" width="1288.3" height="1213.2"/>
<line x1="270.0" y1="629.5" x2="1558.3" y2="629.5"/>
</g>
<g style="font-family:'Liberation Serif',serif" fill="#000">
<g transform="matrix(0.7250 0 0 0.9913 -93.02 -422.61)"><text x="300" y="700" font-size="103">1</text></g>
<g transform="matrix(0.9727 0 0 1.0000 -125.21 -427.70)"><text x="300" y="700" font-size="103">0</text></g>
<g transform="matrix(0.9040 0 0 1.0439 -57.51 -513.28)"><text x="300" y="700" font-size="61">3</text></g>
<g transform="matrix(0.7250 0 0 0.9986 -93.12 -46.59)"><text x="300" y="700" font-size="103">1</text></g>
<g transform="matrix(0.9614 0 0 1.0043 -121.45 -49.70)"><text x="300" y="700" font-size="103">0</text></g>
<g transform="matrix(1.0708 0 0 1.0225 -109.46 -118.45)"><text x="300" y="700" font-size="61">2</text></g>
<g transform="matrix(0.7250 0 0 0.9913 -93.02 92.39)"><text x="300" y="700" font-size="103">1</text></g>
<g transform="matrix(0.9727 0 0 1.0000 -125.21 87.30)"><text x="300" y="700" font-size="103">0</text></g>
<g transform="matrix(1.0833 0 0 1.0300 -113.55 10.90)"><text x="300" y="700" font-size="61">2</text></g>
<g transform="matrix(0.7250 0 0 0.9913 -93.12 245.39)"><text x="300" y="700" font-size="103">1</text></g>
<g transform="matrix(0.9614 0 0 0.9986 -121.45 241.20)"><text x="300" y="700" font-size="103">0</text></g>
<g transform="matrix(0.7136 0 0 1.0275 3.04 165.65)"><text x="300" y="700" font-size="61">1</text></g>
<g transform="matrix(0.7250 0 0 0.9928 -93.12 394.87)"><text x="300" y="700" font-size="103">1</text></g>
<g transform="matrix(0.9614 0 0 0.9986 -121.45 391.70)"><text x="300" y="700" font-size="103">0</text></g>
<g transform="matrix(0.9885 0 0 1.0415 -83.02 306.93)"><text x="300" y="700" font-size="61">0</text></g>
<g transform="matrix(0.7250 0 0 0.9913 -110.73 548.49)"><text x="300" y="700" font-size="103">1</text></g>
<g transform="matrix(0.9614 0 0 0.9914 -140.95 549.31)"><text x="300" y="700" font-size="103">0</text></g>
<g transform="matrix(0.9750 0 0 1.0600 -95.55 448.52)"><text x="300" y="700" font-size="61">-</text></g>
<g transform="matrix(0.7136 0 0 1.0325 3.04 465.45)"><text x="300" y="700" font-size="61">1</text></g>
<g transform="matrix(0.9682 0 0 1.0071 93.27 634.59)"><text x="300" y="700" font-size="103">0</text></g>
<g transform="matrix(0.9333 0 0 1.0500 153.27 604.55)"><text x="300" y="700" font-size="103">.</text></g>
<g transform="matrix(0.7333 0 0 0.9928 241.60 643.67)"><text x="300" y="700" font-size="103">1</text></g>
<g transform="matrix(0.7417 0 0 0.9928 541.12 643.47)"><text x="300" y="700" font-size="103">1</text></g>
<g transform="matrix(0.7167 0 0 0.9928 862.75 643.67)"><text x="300" y="700" font-size="103">1</text></g>
<g transform="matrix(0.9795 0 0 1.0071 823.42 634.59)"><text x="300" y="700" font-size="103">0</text></g>
<g transform="matrix(0.7194 0 0 0.9928 1172.89 643.67)"><text x="300" y="700" font-size="103">1</text></g>
<g transform="matrix(0.9545 0 0 1.0071 1144.62 634.59)"><text x="300" y="700" font-size="103">0</text></g>
<g transform="matrix(0.9568 0 0 1.0071 1192.03 634.59)"><text x="300" y="700" font-size="103">0</text></g>
<g transform="matrix(1.1037 0 0 1.0791 293.98 706.75)"><text x="300" y="700" font-size="140">ω</text></g>
<g transform="matrix(0.9311 0 0 0.9654 478.01 785.66)"><text x="300" y="700" font-size="115">(rad/sec)</text></g>
<g transform="matrix(0.9955 0 0 1.0656 -114.40 -196.23)"><text transform="translate(200,1000) rotate(-90)" font-size="95" stroke="#000" stroke-width="2.4" stroke-linejoin="round">G</text></g>
<g transform="matrix(1.1040 0 0 0.9091 -129.44 -114.16)"><text transform="translate(200,1000) rotate(-90)" font-size="95" stroke="#000" stroke-width="2.4" stroke-linejoin="round">'</text></g>
<g transform="matrix(0.9074 0 0 0.9706 -95.50 -195.15)"><text transform="translate(200,1000) rotate(-90)" font-size="95" stroke="#000" stroke-width="2.4" stroke-linejoin="round">,</text></g>
<g transform="matrix(0.9925 0 0 1.0547 -113.49 -302.02)"><text transform="translate(200,1000) rotate(-90)" font-size="95" stroke="#000" stroke-width="2.4" stroke-linejoin="round">G</text></g>
<g transform="matrix(1.1000 0 0 0.9091 -128.60 -232.86)"><text transform="translate(200,1000) rotate(-90)" font-size="95" stroke="#000" stroke-width="2.4" stroke-linejoin="round">'</text></g>
<g transform="matrix(1.1000 0 0 1.0000 -128.60 -340.50)"><text transform="translate(200,1000) rotate(-90)" font-size="95" stroke="#000" stroke-width="2.4" stroke-linejoin="round">'</text></g>
<g transform="matrix(0.9522 0 0 1.0412 -106.49 -429.15)"><text transform="translate(200,1000) rotate(-90)" font-size="95" stroke="#000" stroke-width="2.4" stroke-linejoin="round">(Pa)</text></g>
<g transform="matrix(0.9566 0 0 0.9643 423.36 -582.96)"><text x="300" y="700" font-size="82">TGB</text></g>
<g transform="matrix(0.9500 0 0 1.0075 582.20 -587.15)"><text x="300" y="700" font-size="61">A</text></g>
<g transform="matrix(1.0433 0 0 1.0167 437.19 31.92)"><text x="300" y="700" font-size="100">N</text></g>
<g transform="matrix(1.1538 0 0 1.1960 473.65 -134.58)"><text x="300" y="700" font-size="66" font-weight="bold" font-family="Liberation Sans, sans-serif">*</text></g>
<g transform="matrix(1.0209 0 0 1.0756 969.46 -285.10)"><text x="300" y="700" font-size="61" font-weight="bold">G</text></g>
<g transform="matrix(1.4857 0 0 1.3867 870.56 -489.60)"><text x="300" y="700" font-size="61" font-weight="bold">'</text></g>
<g transform="matrix(0.9789 0 0 1.0018 1071.78 -233.90)"><text x="300" y="700" font-size="61" font-weight="bold">(68</text></g>
<g transform="matrix(1.0500 0 0 0.7923 1130.15 -121.22)"><text x="300" y="700" font-size="40" font-weight="bold">0</text></g>
<g transform="matrix(0.9864 0 0 0.9839 1167.91 -221.14)"><text x="300" y="700" font-size="61" font-weight="bold">C)</text></g>
<g transform="matrix(1.0209 0 0 1.0756 969.26 -187.00)"><text x="300" y="700" font-size="61" font-weight="bold">G</text></g>
<g transform="matrix(1.4000 0 0 1.3533 898.20 -369.30)"><text x="300" y="700" font-size="61" font-weight="bold">'</text></g>
<g transform="matrix(1.5429 0 0 1.3533 867.93 -369.30)"><text x="300" y="700" font-size="61" font-weight="bold">'</text></g>
<g transform="matrix(1.0066 0 0 1.0109 1063.91 -141.98)"><text x="300" y="700" font-size="61" font-weight="bold">(68</text></g>
<g transform="matrix(1.0500 0 0 0.7923 1130.15 -23.32)"><text x="300" y="700" font-size="40" font-weight="bold">0</text></g>
<g transform="matrix(0.9729 0 0 0.9929 1174.52 -129.11)"><text x="300" y="700" font-size="61" font-weight="bold">C)</text></g>
<g transform="matrix(1.0279 0 0 1.0780 969.44 353.89)"><text x="300" y="700" font-size="61" font-weight="bold">G</text></g>
<g transform="matrix(1.5857 0 0 1.4000 843.86 142.50)"><text x="300" y="700" font-size="61" font-weight="bold">'</text></g>
<g transform="matrix(1.0262 0 0 1.0036 1046.36 405.31)"><text x="300" y="700" font-size="61" font-weight="bold">(110</text></g>
<g transform="matrix(1.0722 0 0 0.8346 1141.16 490.67)"><text x="300" y="700" font-size="40" font-weight="bold">0</text></g>
<g transform="matrix(0.9814 0 0 0.9857 1189.55 418.09)"><text x="300" y="700" font-size="61" font-weight="bold">C)</text></g>
<g transform="matrix(1.0209 0 0 1.0780 971.56 449.69)"><text x="300" y="700" font-size="61" font-weight="bold">G</text></g>
<g transform="matrix(1.4714 0 0 1.4000 880.31 238.00)"><text x="300" y="700" font-size="61" font-weight="bold">'</text></g>
<g transform="matrix(1.5429 0 0 1.4000 872.03 238.00)"><text x="300" y="700" font-size="61" font-weight="bold">'</text></g>
<g transform="matrix(0.9990 0 0 0.9873 1057.39 511.97)"><text x="300" y="700" font-size="61" font-weight="bold">(110</text></g>
<g transform="matrix(1.0389 0 0 0.8269 1153.59 591.45)"><text x="300" y="700" font-size="40" font-weight="bold">0</text></g>
<g transform="matrix(0.9814 0 0 0.9696 1189.55 524.54)"><text x="300" y="700" font-size="61" font-weight="bold">C)</text></g>
</g>

<circle cx="1195.5" cy="448.2" r="15.2" fill="#0000ff"/>
<circle cx="1195.5" cy="545" r="11.5" fill="none" stroke="#0000ff" stroke-width="7.4"/>
<rect x="1203.9" y="1077.2" width="20.8" height="20.8" fill="#000" stroke="#000" stroke-width="6" stroke-linejoin="round"/>
<rect x="1204.1" y="1174.1" width="20.2" height="20.2" fill="none" stroke="#000" stroke-width="6.8" stroke-linejoin="round"/>

</g>
</svg>
</body></html>
